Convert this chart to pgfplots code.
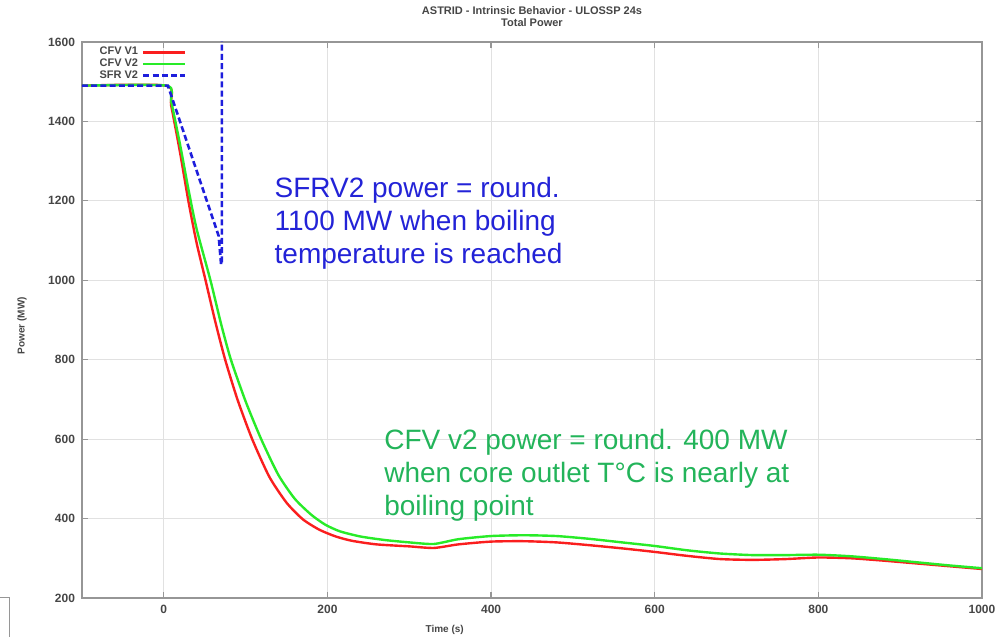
\documentclass[border=0pt]{standalone}
\usepackage{fontspec}
\setmainfont{Liberation Sans}
\usepackage{pgfplots}
\pgfplotsset{compat=1.18}

\definecolor{gridgray}{RGB}{225,225,225}
\definecolor{axisgray}{RGB}{150,150,150}
\definecolor{labelgray}{RGB}{70,70,70}
\definecolor{cfvred}{RGB}{250,30,30}
\definecolor{cfvgreen}{RGB}{40,235,40}
\definecolor{sfrblue}{RGB}{30,30,220}
\definecolor{annoblue}{RGB}{35,35,215}
\definecolor{annogreen}{RGB}{35,180,90}

\begin{document}
\begin{tikzpicture}
\begin{axis}[
  scale only axis, width=450pt, height=278pt,
  xmin=-100, xmax=1000, ymin=200, ymax=1600,
  xtick={0,200,...,1000}, ytick={200,400,...,1600},
  grid=major, grid style={gridgray, line width=0.5pt},
  axis line style={axisgray, line width=0.8pt},
  tick style={axisgray, line width=0.6pt}, major tick length=3pt, tick align=inside,
  ticklabel style={font=\fontsize{6}{7}\selectfont\bfseries, text=labelgray},
  /pgf/number format/assume math mode=true,
  /pgf/number format/set thousands separator={},
  xlabel={Time (s)}, ylabel={Power (MW)},
  label style={font=\fontsize{5}{6}\selectfont\bfseries, text=labelgray},
  xlabel style={at={(rel axis cs:0.403,-0.0576)}, anchor=center},
  ylabel style={at={(rel axis cs:-0.0667,0.49)}, anchor=center},
  title={ASTRID - Intrinsic Behavior - ULOSSP 24s\\Total Power},
  title style={align=center, font=\fontsize{5.5}{6}\selectfont\bfseries, text=labelgray,
    at={(rel axis cs:0.5,1)}, anchor=south, inner sep=0pt, yshift=1.5pt},
  legend style={at={(rel axis cs:0.008,1.006)}, anchor=north west, draw=none, fill=none,
    font=\fontsize{5.5}{6}\selectfont\bfseries, text=labelgray, row sep=-3.5pt},
  legend cell align=left, legend plot pos=right,
  legend image code/.code={\draw[#1] (0pt,0pt) -- (21pt,0pt);},
]

% CFV V1
\addplot[cfvred, line width=1.2pt, smooth, tension=0.4] coordinates {
  (-100,1490) (3,1490) (9,1440) (20,1320) (30,1200) (40,1095) (51,1000)
  (63,895) (75,800) (90,700) (108,600) (129,505) (150,440) (170,398)
  (190,372) (210,355) (230,344) (260,335) (300,330) (330,326) (360,335)
  (400,342) (440,343) (480,340) (520,333) (560,325) (600,316) (640,306)
  (680,298) (720,296) (760,298) (800,302) (840,300) (880,294) (920,287)
  (960,280) (1000,273)
};
\addlegendentry{CFV V1}

% CFV V2
\addplot[cfvgreen, line width=1.2pt, smooth, tension=0.4] coordinates {
  (-100,1490) (3,1490) (9,1450) (20,1340) (30,1230) (40,1130) (57,1000)
  (70,890) (82,800) (100,695) (119,600) (140,510) (160,450) (180,410)
  (197,385) (215,368) (240,355) (270,346) (300,340) (330,336) (360,348)
  (400,356) (440,358) (480,356) (520,349) (560,340) (600,331) (640,320)
  (680,312) (720,308) (760,308) (800,309) (840,305) (880,298) (920,290)
  (960,282) (1000,275)
};
\addlegendentry{CFV V2}

% SFR V2
\addplot[sfrblue, line width=1.3pt, dash pattern=on 3pt off 1.6pt] coordinates {
  (-100,1490) (5,1490) (67,1112) (70,1040) (71,1040) (71,1700)
};
\addlegendentry{SFR V2}

\node[anchor=north west, inner sep=0pt, align=left, text=annoblue,
  font=\fontsize{14}{16.5}\selectfont] at (axis cs:135,1260)
  {SFRV2 power = round.\\1100 MW when boiling\\temperature is reached};
\node[anchor=north west, inner sep=0pt, align=left, text=annogreen,
  font=\fontsize{14}{16.5}\selectfont] at (axis cs:269,625)
  {CFV v2 power = round. 400 MW\\when core outlet T°C is nearly at\\boiling point};
\end{axis}
\pgfresetboundingbox
\useasboundingbox (-41pt,-19.5pt) rectangle (463pt,299pt);
\draw[axisgray, line width=0.5pt] (-41pt,0pt) -- (-36pt,0pt) -- (-36pt,-19.5pt);
\end{tikzpicture}
\end{document}
